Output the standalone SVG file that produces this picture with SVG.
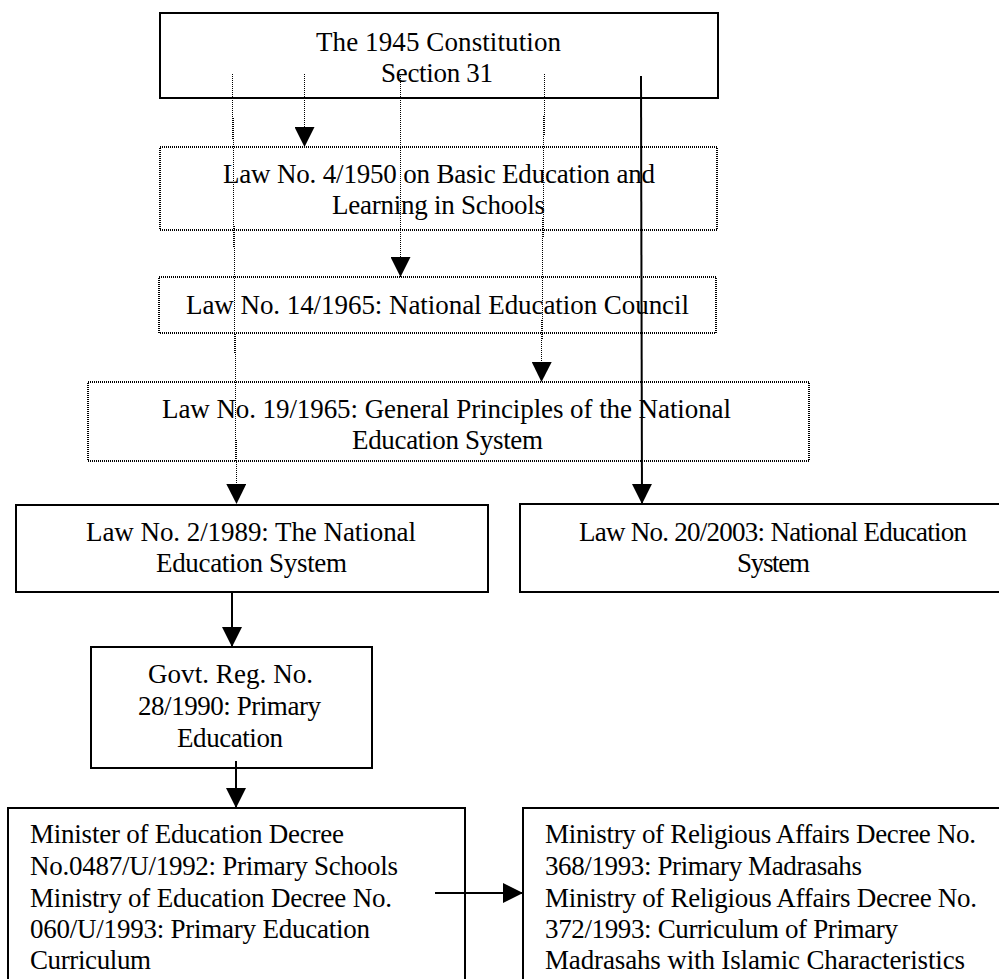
<svg xmlns="http://www.w3.org/2000/svg" width="999" height="979" viewBox="0 0 999 979">
<style>
  .box { fill: #fff; stroke: #000; stroke-width: 2; }
  .dbox { fill: none; stroke: #000; stroke-width: 2; stroke-dasharray: 1 1; shape-rendering: crispEdges; }
  .t { font-family: "Liberation Serif", "Times New Roman", serif; font-size: 27px; fill: #000; }
  .c { text-anchor: middle; }
  .solid { stroke: #000; stroke-width: 2; fill: none; }
  .dot { stroke: #000; stroke-width: 1.2; stroke-dasharray: 1 1; fill: none; shape-rendering: crispEdges; }
</style>
<defs>
  <marker id="ah" viewBox="0 0 20 20" refX="20" refY="10" markerWidth="20" markerHeight="20" markerUnits="userSpaceOnUse" orient="auto">
    <path d="M0,0 L20,10 L0,20 Z" fill="#000"/>
  </marker>
</defs>
<rect width="999" height="979" fill="#fff"/>

<g id="n-constitution">
  <rect class="box" x="160" y="13" width="558" height="85"/>
  <text class="t c" x="438.5" y="51" textLength="245">The 1945 Constitution</text>
  <text class="t c" x="437" y="82" textLength="112">Section 31</text>
</g>
<g id="n-law4-1950">
  <rect class="dbox" x="160" y="147" width="557" height="83"/>
  <text class="t c" x="439" y="183" textLength="432">Law No. 4/1950 on Basic Education and</text>
  <text class="t c" x="438.5" y="214" textLength="213">Learning in Schools</text>
</g>
<g id="n-law14-1965">
  <rect class="dbox" x="159" y="277" width="557" height="56"/>
  <text class="t c" x="437.5" y="314" textLength="503">Law No. 14/1965: National Education Council</text>
</g>
<g id="n-law19-1965">
  <rect class="dbox" x="88" y="382" width="721" height="79"/>
  <text class="t c" x="446.5" y="418" textLength="569">Law No. 19/1965: General Principles of the National</text>
  <text class="t c" x="447.5" y="449" textLength="191">Education System</text>
</g>
<g id="n-law2-1989">
  <rect class="box" x="16" y="505" width="472" height="87"/>
  <text class="t c" x="251" y="541" textLength="330">Law No. 2/1989: The National</text>
  <text class="t c" x="251.5" y="572" textLength="191">Education System</text>
</g>
<g id="n-law20-2003">
  <rect class="box" x="520" y="504" width="500" height="88"/>
  <text class="t c" x="773" y="541" textLength="388">Law No. 20/2003: National Education</text>
  <text class="t c" x="773.5" y="572" textLength="73">System</text>
</g>
<g id="n-govreg-28-1990">
  <rect class="box" x="91" y="647" width="281" height="121"/>
  <text class="t c" x="230.5" y="683" textLength="165">Govt. Reg. No.</text>
  <text class="t c" x="229.5" y="715" textLength="183">28/1990: Primary</text>
  <text class="t c" x="230" y="747" textLength="106">Education</text>
</g>
<g id="n-minister-decrees">
  <rect class="box" x="8" y="808" width="457" height="190"/>
  <text class="t" x="30" y="843" textLength="314">Minister of Education Decree</text>
  <text class="t" x="30" y="875" textLength="368">No.0487/U/1992: Primary Schools</text>
  <text class="t" x="30" y="907" textLength="362">Ministry of Education Decree No.</text>
  <text class="t" x="30" y="938" textLength="340">060/U/1993: Primary Education</text>
  <text class="t" x="30" y="969" textLength="121">Curriculum</text>
</g>
<g id="n-religious-decrees">
  <rect class="box" x="523" y="808" width="500" height="190"/>
  <text class="t" x="545" y="843" textLength="431">Ministry of Religious Affairs Decree No.</text>
  <text class="t" x="545" y="875" textLength="317">368/1993: Primary Madrasahs</text>
  <text class="t" x="545" y="907" textLength="432">Ministry of Religious Affairs Decree No.</text>
  <text class="t" x="545" y="938" textLength="353">372/1993: Curriculum of Primary</text>
  <text class="t" x="545" y="969" textLength="420">Madrasahs with Islamic Characteristics</text>
</g>

<g id="connectors">
  <path class="dot" d="M232.5,74 L236.5,504" marker-end="url(#ah)"/>
  <path class="dot" d="M304.5,74 L304.5,147" marker-end="url(#ah)"/>
  <path class="dot" d="M400.5,74 L400.5,277" marker-end="url(#ah)"/>
  <path class="dot" d="M544.5,74 L541.5,382" marker-end="url(#ah)"/>
  <path class="solid" d="M641,76 L642,504" marker-end="url(#ah)"/>
  <path class="solid" d="M232,592 L232,647" marker-end="url(#ah)"/>
  <path class="solid" d="M236,761 L236,808" marker-end="url(#ah)"/>
  <path class="solid" d="M435,893 L523,893" marker-end="url(#ah)"/>
</g>
</svg>
